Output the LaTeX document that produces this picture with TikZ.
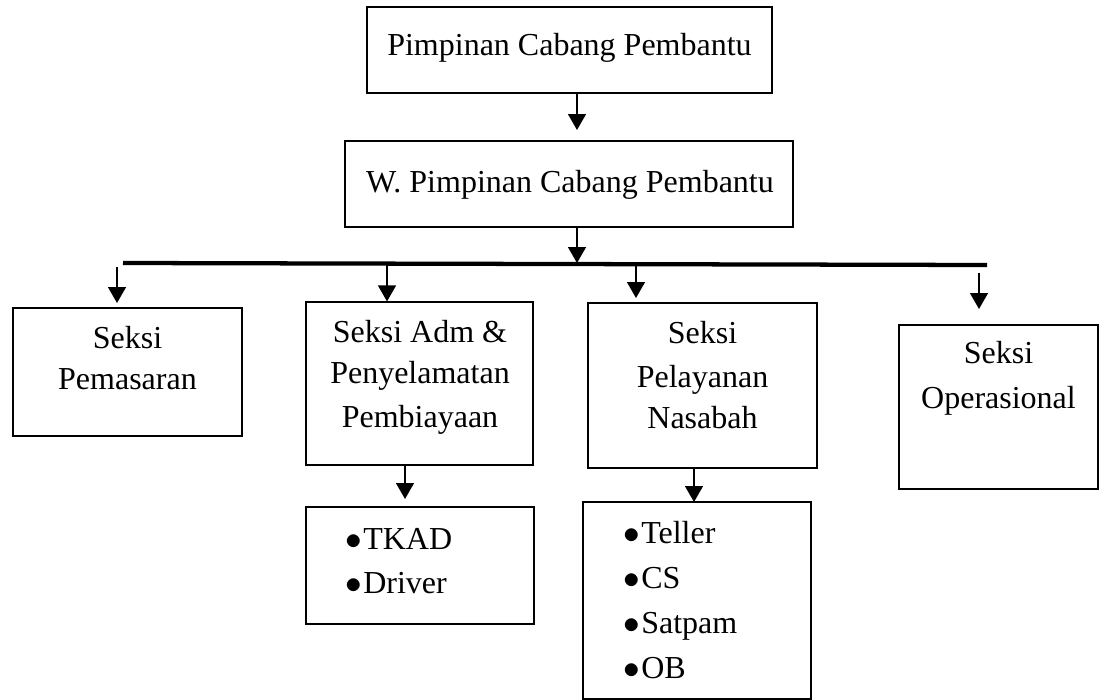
\documentclass[tikz,border=0pt]{standalone}
\usepackage{fontspec}
\setmainfont{Liberation Serif}
\usetikzlibrary{arrows.meta}
\begin{document}
\begin{tikzpicture}[x=0.75pt,y=-0.75pt,
  box/.style={draw=black, line width=0.9pt, rectangle, inner sep=0pt},
  txt/.style={inner sep=0pt, anchor=base, font=\fontsize{24}{31}\selectfont},
  item/.style={inner sep=0pt, anchor=base west, font=\fontsize{24}{31}\selectfont},
  arr/.style={line width=1.1pt, -{Triangle[length=12pt,width=13.5pt]}},
  bar/.style={line width=3.2pt}]
\useasboundingbox (0,0) rectangle (1101,700);
% boxes
\node[box, minimum width=303.75pt, minimum height=64.5pt] (b1) at (569.5,50) {};
\node[box, minimum width=336pt, minimum height=64.5pt] (b2) at (569,184) {};
\node[box, minimum width=171.75pt, minimum height=96pt] (b3) at (127.5,372) {};
\node[box, minimum width=170.25pt, minimum height=122.25pt] (b4) at (419.5,383.5) {};
\node[box, minimum width=171.75pt, minimum height=123.75pt] (b5) at (702.5,385.5) {};
\node[box, minimum width=149.25pt, minimum height=123pt] (b6) at (998.5,407) {};
\node[box, minimum width=171pt, minimum height=87.75pt] (b7) at (420,565.5) {};
\node[box, minimum width=171pt, minimum height=147.75pt] (b8) at (697,600.5) {};
% texts
\node[txt] (t1) at (569.5,55) {Pimpinan Cabang Pembantu};
\node[txt] (t2) at (570,192) {W. Pimpinan Cabang Pembantu};
\node[txt] (t3a) at (127.5,348) {Seksi};
\node[txt] (t3b) at (127.5,389) {Pemasaran};
\node[txt] (t4a) at (420,342) {Seksi Adm \&};
\node[txt] (t4b) at (420,383) {Penyelamatan};
\node[txt] (t4c) at (420,427) {Pembiayaan};
\node[txt] (t5a) at (702.5,343) {Seksi};
\node[txt] (t5b) at (702.5,387) {Pelayanan};
\node[txt] (t5c) at (702.5,428) {Nasabah};
\node[txt] (t6a) at (998.5,363) {Seksi};
\node[txt] (t6b) at (998.5,408) {Operasional};
\node[item] (l1) at (345,549) {\makebox[13.5pt][l]{$\bullet$}TKAD};
\node[item] (l2) at (345,593) {\makebox[13.5pt][l]{$\bullet$}Driver};
\node[item] (m1) at (623,543) {\makebox[13.5pt][l]{$\bullet$}Teller};
\node[item] (m2) at (623,588) {\makebox[13.5pt][l]{$\bullet$}CS};
\node[item] (m3) at (623,633) {\makebox[13.5pt][l]{$\bullet$}Satpam};
\node[item] (m4) at (623,678) {\makebox[13.5pt][l]{$\bullet$}OB};
% connectors
\coordinate (a1t) at (577,130);
\draw[arr] (b1.south -| a1t) -- (a1t);
\coordinate (a2t) at (577,263);
\draw[arr] (b2.south -| a2t) -- (a2t);
\coordinate (barL) at (123,263);
\coordinate (barR) at (987,265);
\draw[bar] (barL) -- (barR);
\coordinate (p3s) at (117,267);
\coordinate (p3e) at (117,303);
\draw[arr] (p3s) -- (p3e);
\coordinate (p4s) at (387,264);
\draw[arr] (p4s) -- (p4s |- b4.north);
\coordinate (p5s) at (636,264);
\coordinate (p5e) at (636,298);
\draw[arr] (p5s) -- (p5e);
\coordinate (p6s) at (979,273);
\coordinate (p6e) at (979,309);
\draw[arr] (p6s) -- (p6e);
\coordinate (p7e) at (405,499);
\draw[arr] (b4.south -| p7e) -- (p7e);
\coordinate (p8e) at (694,502);
\draw[arr] (b5.south -| p8e) -- (p8e);
\end{tikzpicture}
\end{document}
